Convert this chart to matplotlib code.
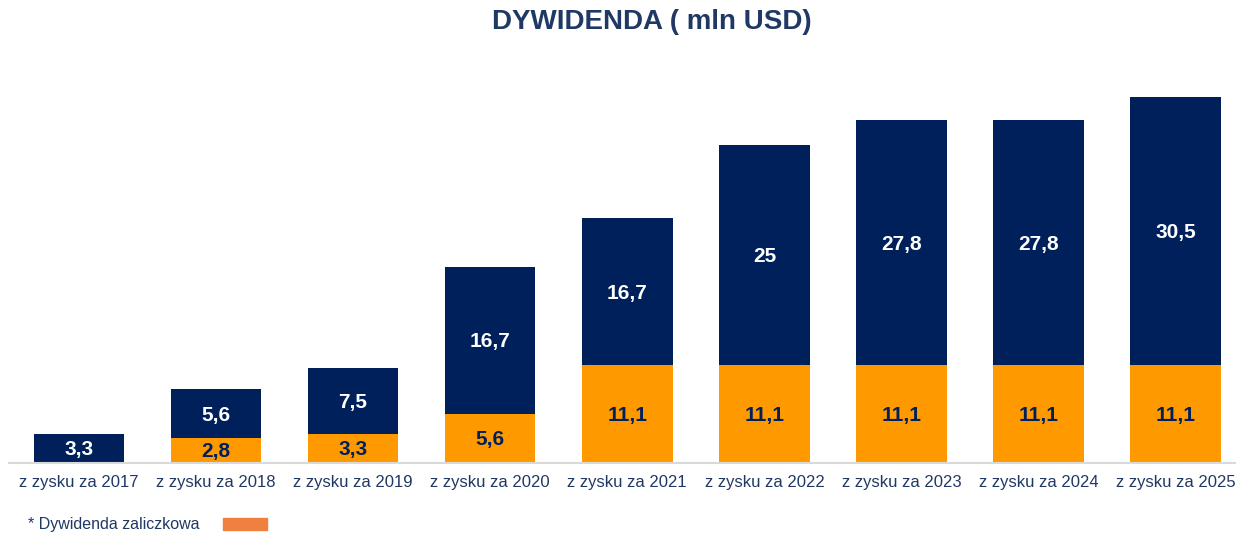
import matplotlib.pyplot as plt
from matplotlib.patches import Rectangle

plt.rcParams['font.family'] = ['Liberation Sans', 'DejaVu Sans']

years = ["z zysku za 2017", "z zysku za 2018", "z zysku za 2019", "z zysku za 2020",
         "z zysku za 2021", "z zysku za 2022", "z zysku za 2023", "z zysku za 2024",
         "z zysku za 2025"]
advance = [0, 2.8, 3.3, 5.6, 11.1, 11.1, 11.1, 11.1, 11.1]
final = [3.3, 5.6, 7.5, 16.7, 16.7, 25, 27.8, 27.8, 30.5]

navy = "#00205B"
orange = "#FF9900"
text_blue = "#1F3864"


def fmt(v):
    s = f"{v:.1f}".replace(".", ",")
    return s[:-2] if s.endswith(",0") else s


fig = plt.figure(figsize=(12.36, 5.35), dpi=100)
ax = fig.add_axes([9 / 1236, 72 / 535, 1 - 9 / 1236, 398 / 535])

x = list(range(len(years)))
ax.bar(x, advance, width=0.66, color=orange)
ax.bar(x, final, width=0.66, bottom=advance, color=navy)

for i in x:
    if advance[i] > 0:
        ax.text(i, advance[i] / 2 - 0.15, fmt(advance[i]), ha="center", va="center",
                color=navy, fontsize=15, fontweight="bold")
    ax.text(i, advance[i] + final[i] / 2 - 0.15, fmt(final[i]), ha="center", va="center",
            color="white", fontsize=15, fontweight="bold")

ax.set_xlim(-0.51, 8.44)
ax.set_ylim(0, 45.2)
ax.set_xticks(x)
ax.set_xticklabels(years, fontsize=12, color=text_blue)
ax.tick_params(axis="x", length=0, pad=9)
ax.set_yticks([])
for s in ["top", "right", "left"]:
    ax.spines[s].set_visible(False)
ax.spines["bottom"].set_color("#D9D9D9")
ax.spines["bottom"].set_linewidth(1.5)

fig.text(652 / 1236, 1 - 22 / 535, "DYWIDENDA ( mln USD)", ha="center", va="center",
         fontsize=20, fontweight="bold", color=text_blue)

fig.text(28 / 1236, 1 - 524 / 535, "* Dywidenda zaliczkowa", ha="left", va="center",
         fontsize=11.5, color=text_blue)
fig.patches.append(Rectangle((223 / 1236, 1 - 530 / 535), 44 / 1236, 12 / 535,
                             transform=fig.transFigure, color="#F08040"))

fig.savefig("out.png", dpi=100)
